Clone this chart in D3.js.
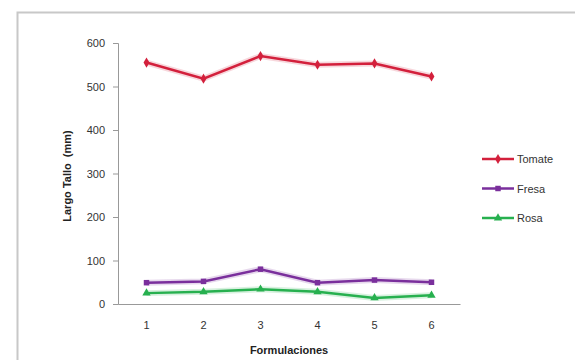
<!DOCTYPE html>
<html>
<head>
    <style>
        body { margin: 0; background: #fff; }
        svg { font-family: 'Liberation Sans', Arial, sans-serif; }
    </style>
    <script src="https://d3js.org/d3.v7.min.js"></script>
</head>
<body>
<div id="chart"></div>
<script>
    const categories = ["1", "2", "3", "4", "5", "6"];
    const tomate = [555, 518, 570, 550, 553, 523];
    const fresa = [49, 52, 80, 49, 55, 50];
    const rosa = [25, 28, 34, 28, 14, 20];
    const yTicks = [0, 100, 200, 300, 400, 500, 600];

    const series = [
        {name: "Tomate", values: tomate, color: "#d3203c", marker: "diamond"},
        {name: "Fresa", values: fresa, color: "#7a2f9c", marker: "square"},
        {name: "Rosa", values: rosa, color: "#27b04f", marker: "triangle"}
    ];

    const [W, H] = [575, 360];
    const svg = d3.select("#chart").append("svg")
        .attr("width", W).attr("height", H);

    // chart frame
    svg.append("path")
        .attr("d", "M17.5,360 L17.5,12.5 L575,12.5")
        .attr("fill", "none").attr("stroke", "#c8c8c8").attr("stroke-width", 2);

    const x = d3.scaleBand().domain(categories).range([118, 460]);
    const y = d3.scaleLinear().domain([0, 600]).range([304, 43]);

    // y axis
    const yAxis = svg.append("g")
        .attr("transform", "translate(118,0)")
        .call(d3.axisLeft(y).tickValues(yTicks).tickSize(5).tickPadding(8));
    yAxis.select(".domain").attr("stroke", "#999");
    yAxis.selectAll(".tick line").attr("stroke", "#999");
    yAxis.selectAll("text").attr("font-size", 11).attr("fill", "#333");

    // x axis
    const xAxis = svg.append("g")
        .attr("transform", "translate(0,304)")
        .call(d3.axisBottom(x).tickSize(0).tickPadding(17));
    xAxis.select(".domain").attr("stroke", "#999");
    xAxis.selectAll("text").attr("font-size", 11).attr("fill", "#333");

    svg.append("text")
        .attr("x", 289).attr("y", 354)
        .attr("text-anchor", "middle")
        .attr("font-size", 11).attr("font-weight", "bold").attr("fill", "#222")
        .text("Formulaciones");

    svg.append("text")
        .attr("transform", "translate(71,176) rotate(-90)")
        .attr("text-anchor", "middle")
        .attr("font-size", 11).attr("font-weight", "bold").attr("fill", "#222")
        .attr("xml:space", "preserve")
        .text("Largo Tallo  (mm)");

    const cx = (d, i) => x(categories[i]) + x.bandwidth() / 2;
    const line = d3.line().x(cx).y(d => y(d));

    const symbolFor = m => m === "diamond" ? d3.symbolDiamond
        : m === "square" ? d3.symbolSquare : d3.symbolTriangle;

    series.forEach(s => {
        // soft halo like the scanned image
        svg.append("path")
            .datum(s.values)
            .attr("d", line)
            .attr("fill", "none")
            .attr("stroke", s.color).attr("stroke-opacity", 0.18)
            .attr("stroke-width", 6);
        svg.append("path")
            .datum(s.values)
            .attr("d", line)
            .attr("fill", "none")
            .attr("stroke", s.color)
            .attr("stroke-width", 2.5);
        svg.selectAll(null)
            .data(s.values)
            .enter().append("path")
            .attr("transform", (d, i) => `translate(${cx(d, i)},${y(d)})`)
            .attr("d", d3.symbol().type(symbolFor(s.marker)).size(30))
            .attr("fill", s.color);
    });

    // legend
    const legend = svg.append("g").attr("transform", "translate(482,159)");
    series.forEach((s, i) => {
        const g = legend.append("g").attr("transform", `translate(0,${i * 29.5})`);
        g.append("line")
            .attr("x1", 0).attr("x2", 32)
            .attr("stroke", s.color).attr("stroke-width", 2.5);
        g.append("path")
            .attr("transform", "translate(16,0)")
            .attr("d", d3.symbol().type(symbolFor(s.marker)).size(30))
            .attr("fill", s.color);
        g.append("text")
            .attr("x", 35).attr("y", 4)
            .attr("font-size", 11).attr("fill", "#333")
            .text(s.name);
    });
</script>
</body>
</html>
